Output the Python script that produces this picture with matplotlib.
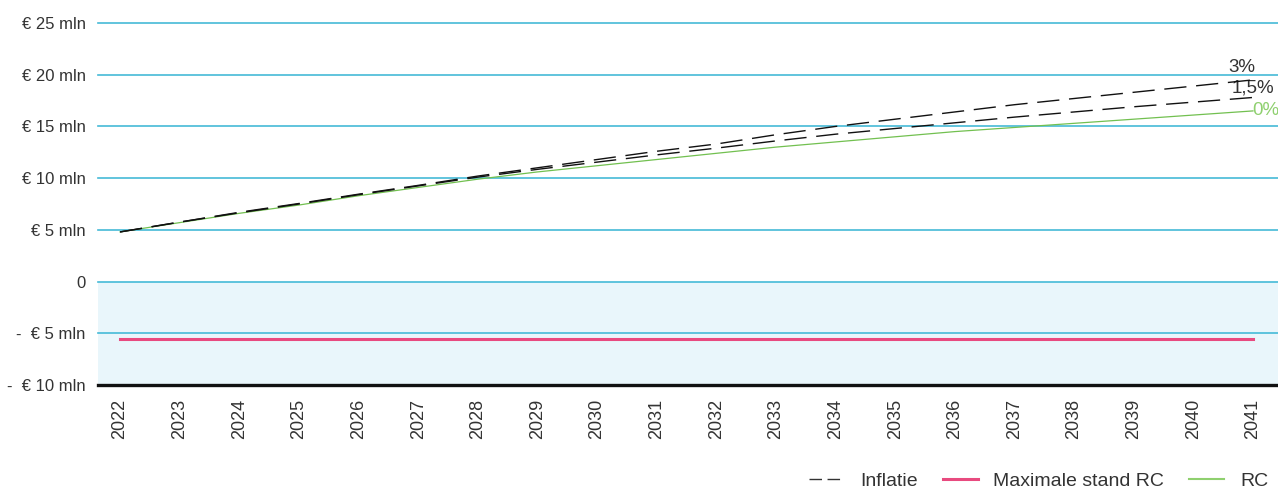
import matplotlib
matplotlib.use("Agg")
import matplotlib.pyplot as plt
from matplotlib.lines import Line2D

plt.rcParams["font.family"] = ["Liberation Sans", "DejaVu Sans"]

years = list(range(2022, 2042))
rc_0 = [4.8, 5.7, 6.6, 7.4, 8.3, 9.1, 9.9, 10.6, 11.2, 11.8,
        12.4, 13.0, 13.5, 14.0, 14.5, 14.9, 15.3, 15.7, 16.1, 16.5]
infl_15 = [4.8, 5.75, 6.65, 7.5, 8.4, 9.25, 10.1, 10.85, 11.55, 12.25,
           12.9, 13.6, 14.25, 14.8, 15.35, 15.9, 16.4, 16.9, 17.35, 17.8]
infl_3 = [4.8, 5.75, 6.7, 7.55, 8.45, 9.3, 10.2, 11.0, 11.8, 12.6,
          13.3, 14.2, 15.0, 15.7, 16.4, 17.1, 17.7, 18.3, 18.9, 19.5]
max_rc = [-5.6] * len(years)

y_ticks = [25, 20, 15, 10, 5, 0, -5, -10]
y_labels = ["€ 25 mln", "€ 20 mln", "€ 15 mln", "€ 10 mln", "€ 5 mln", "0",
            "-  € 5 mln", "-  € 10 mln"]

grid_col = "#45bad7"
pink = "#e84a7f"
green = "#72c050"
text_col = "#333333"

fig = plt.figure(figsize=(12.78, 4.91), dpi=100)
ax = fig.add_axes([98 / 1278, 1 - 385 / 491, 1 - 98 / 1278, (385 - 23) / 491])

ax.set_xlim(2021.63, 2041.42)
ax.set_ylim(-10, 25)

# negatieve zone lichtblauw
ax.axhspan(-10, 0, color="#e9f6fb", zorder=0)
for v in y_ticks[:-1]:
    ax.axhline(v, color=grid_col, lw=1.2, zorder=1, clip_on=False)
ax.axhline(-10, color="#111111", lw=2.4, zorder=5, clip_on=False)

ax.plot(years, max_rc, color=pink, lw=2.2, zorder=3)
ax.plot(years, rc_0, color=green, lw=0.9, zorder=3)
ax.plot(years, infl_15, color="#111111", lw=1.0, dashes=(16, 7), zorder=4)
ax.plot(years, infl_3, color="#111111", lw=1.0, dashes=(16, 7), zorder=4)

ax.annotate("3%", xy=(years[-1], infl_3[-1]), xytext=(-25, 12),
            textcoords="offset pixels", ha="left", va="center",
            fontsize=13.5, color=text_col)
ax.annotate("1,5%", xy=(years[-1], infl_15[-1]), xytext=(-21, 9),
            textcoords="offset pixels", ha="left", va="center",
            fontsize=13.5, color=text_col)
ax.annotate("0%", xy=(years[-1], rc_0[-1]), xytext=(-1, 0),
            textcoords="offset pixels", ha="left", va="center",
            fontsize=13.5, color="#8fd06f", annotation_clip=False)

ax.set_yticks(y_ticks)
ax.set_yticklabels(y_labels, fontsize=12, color=text_col)
ax.set_xticks(years)
ax.set_xticklabels([str(y) for y in years], rotation=90, fontsize=13,
                   color=text_col)
ax.tick_params(axis="y", length=0, pad=9)
ax.tick_params(axis="x", length=0, pad=10)
for s in ax.spines.values():
    s.set_visible(False)

handles = [
    Line2D([], [], color="#333333", lw=1.0, dashes=(9, 4)),
    Line2D([], [], color=pink, lw=2.2),
    Line2D([], [], color="#8fd06f", lw=1.5),
]
fig.legend(handles, ["Inflatie", "Maximale stand RC", "RC"], ncol=3,
           loc="center right", bbox_to_anchor=(1.006, 1 - 481 / 491),
           frameon=False, fontsize=14, handlelength=1.8, handletextpad=0.8,
           columnspacing=1.3, labelcolor=text_col)

fig.savefig("out.png", dpi=100)
